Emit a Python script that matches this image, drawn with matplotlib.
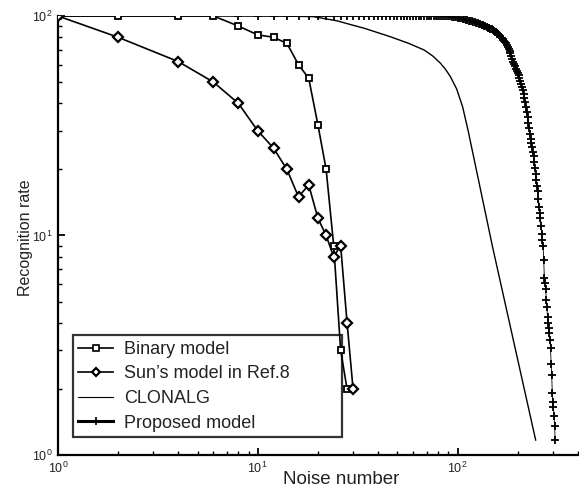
import matplotlib
matplotlib.use("Agg")
import matplotlib.pyplot as plt
from matplotlib.lines import Line2D

plt.rcParams['font.family'] = ['Liberation Sans', 'DejaVu Sans']
plt.rcParams['mathtext.default'] = 'regular'

# ---- data ----
binary_x = [1, 2, 4, 6, 8, 10, 12, 14, 16, 18, 20, 22, 24, 26, 28]
binary_y = [100, 100, 100, 100, 90, 82, 80, 75, 60, 52, 32, 20, 9, 3, 2]

sun_x = [1, 2, 4, 6, 8, 10, 12, 14, 16, 18, 20, 22, 24, 26, 28, 30]
sun_y = [100, 80, 62, 50, 40, 30, 25, 20, 15, 17, 12, 10, 8, 9, 4, 2]

clonalg_x = [1, 8, 14, 19, 25, 29, 34, 46, 57, 68, 75, 82, 87, 92, 99, 106, 113, 150, 246]
clonalg_y = [100, 100, 99.8, 99.3, 95, 91.5, 88, 80.5, 75, 70, 65.8, 61, 57.2, 53, 46.5, 38.6, 30.0, 8.8, 1.17]

proposed_x = [1] + list(range(2, 310, 2))
proposed_y = [100] * 46 + [
    99.7, 99.4, 99.1, 98.7, 98.2, 97.8, 97.4, 97.0, 96.6, 96.2,
    95.7, 95.3, 94.8, 94.4, 94.0, 93.6, 93.2, 92.7, 92.2, 91.7,
    91.2, 90.7, 90.2, 89.7, 89.2, 88.6, 88.0, 87.4, 86.8, 86.2,
    85.6, 84.9, 84.2, 83.4, 82.5, 81.5, 80.4, 79.3, 78.2, 77.1,
    76.0, 75.0, 73.6, 72.1, 70.6, 69.1, 67.6, 65.7, 63.8, 61.9,
    60.4, 59.0, 57.6, 56.3, 55.0, 53.9, 52.3, 50.7, 49.1, 47.6,
    46.0, 44.2, 42.3, 40.5, 38.6, 36.5, 34.5, 32.5, 31.0, 29.0,
    27.5, 26.5, 25.4, 24.0, 23.0, 21.7, 20.2, 19.0, 17.9, 16.8,
    16.0, 14.6, 13.5, 12.6, 12.0, 11.0, 10.2, 9.5, 9.0, 7.7,
    6.4, 6.05, 5.73, 5.1, 4.72, 4.24, 3.98, 3.78, 3.59, 3.34,
    3.06, 2.61, 2.31, 1.91, 1.75, 1.65, 1.5, 1.36, 1.17]

labels = ["Binary model", "Sun\u2019s model in Ref.8", "CLONALG", "Proposed model"]

txt = '#222222'

fig = plt.figure(figsize=(5.79, 4.90), dpi=100)
ax = fig.add_axes([0.100, 0.0714, 0.898, 0.896])

ax.plot(clonalg_x, clonalg_y, color='black', lw=1.0, zorder=3)
ax.plot(proposed_x, proposed_y, color='black', lw=0.6, marker='+',
        ms=6, mew=1.3, zorder=3)
ax.plot(binary_x, binary_y, color='black', lw=1.2, marker='s', ms=4.5,
        mfc='white', mew=1.3, zorder=3)
ax.plot(sun_x, sun_y, color='black', lw=1.2, marker='D', ms=5,
        mfc='white', mew=1.6, zorder=3)

ax.set_xscale('log')
ax.set_yscale('log')
ax.set_xlim(1, 400)
ax.set_ylim(1, 100)

for s in ['top', 'right']:
    ax.spines[s].set_visible(False)
for s in ['left', 'bottom']:
    ax.spines[s].set_linewidth(1.6)

ax.tick_params(which='major', direction='in', length=5, width=1.3,
               labelsize=9, labelcolor=txt, pad=4)
ax.tick_params(which='minor', direction='in', length=3, width=1.0)

ax.set_xlabel("Noise number", fontsize=13.5, color=txt)
ax.set_ylabel("Recognition rate", fontsize=11.5, color=txt)
ax.xaxis.set_label_coords(0.544, -0.036)
ax.yaxis.set_label_coords(-0.048, 0.495)

handles = [
    Line2D([], [], color='black', lw=1.2, marker='s', ms=4, mfc='white', mew=1.2),
    Line2D([], [], color='black', lw=1.2, marker='D', ms=4.5, mfc='white', mew=1.6),
    Line2D([], [], color='black', lw=0.8),
    Line2D([], [], color='black', lw=2.2, marker='+', ms=6, mew=1.2),
]
leg = ax.legend(handles=handles, labels=labels, loc='lower left',
                bbox_to_anchor=(0.029, 0.041, 0.517, 0.2), mode='expand',
                borderaxespad=0, fontsize=13, frameon=True, fancybox=False,
                edgecolor='black', handlelength=1.9, handletextpad=0.65,
                labelspacing=0.42, borderpad=0.3)
leg.get_frame().set_linewidth(1.6)
leg.set_zorder(2)
for t in leg.get_texts():
    t.set_color(txt)

fig.savefig("out.png", dpi=100)
